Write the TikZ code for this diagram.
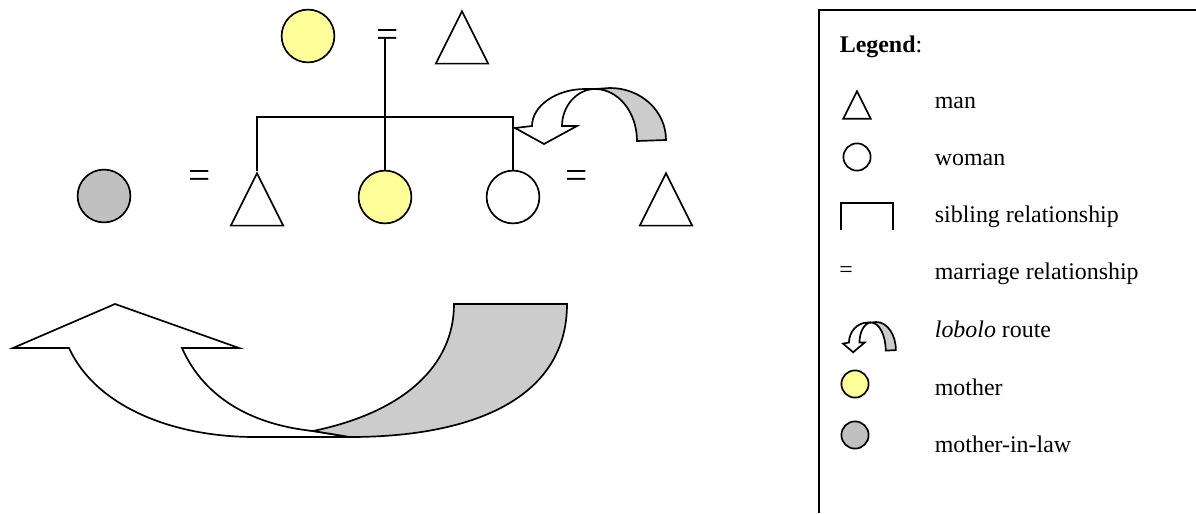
\documentclass[tikz,border=0pt]{standalone}
\usepackage{fontspec}
\setmainfont{Liberation Serif}
\setsansfont{Liberation Sans}
\usetikzlibrary{shapes.geometric}
\definecolor{motheryellow}{HTML}{FFFF99}
\definecolor{inlawgrey}{HTML}{C0C0C0}
\definecolor{routegrey}{HTML}{CCCCCC}

\begin{document}
\begin{tikzpicture}[x=0.025cm, y=-0.025cm, line width=1.2pt, font=\fontsize{17}{20}\selectfont,
	woman/.style={draw, circle, fill=white, inner sep=0pt, minimum size=1.32cm},
	man/.style={draw, isosceles triangle, shape border rotate=90, isosceles triangle stretches, inner sep=0pt, minimum width=1.31cm, minimum height=1.31cm, anchor=apex},
	wed/.style={font=\fontsize{28}{30}\selectfont, inner sep=0pt},
	legtext/.style={anchor=base west, inner sep=0pt},
	lobolo/.pic={
		\draw[fill=white] (17,38) -- (0,40) -- (29,56) -- (62,38) -- (47,38) .. controls (47,18) and (62,1) .. (80,1) -- (70,1) .. controls (41,1) and (17,18) .. (17,38) -- cycle;
		\draw[fill=routegrey] (80,1) -- (95,0) .. controls (126,0) and (151,23) .. (151,52) -- (122,53) .. controls (122,24) and (103,1) .. (80,1) -- cycle;
	}]
	\useasboundingbox (0,0) rectangle (1196,513);

	% family tree
	\node[woman, fill=motheryellow] (grandma) at (308,36) {};
	\node[wed] (wedtop) at (388,39) {=};
	\node[man] (grandpa) at (462,9) {};
	\node[woman, fill=inlawgrey] (inlaw) at (104,196) {};
	\node[wed] (wedleft) at (200,180) {=};
	\node[man] (brother) at (257,171) {};
	\node[woman, fill=motheryellow] (mum) at (385,197) {};
	\node[woman] (sister) at (513,197) {};
	\node[wed] (wedright) at (577,180) {=};
	\node[man] (husband) at (666,171) {};
	\coordinate (couple) at (385,38);
	\coordinate (sibs) at (385,117);
	\draw (couple) -- (mum.north);
	\draw (brother.apex) |- (sibs) -| (sister.north);
	\pic (route) at (515,88) {lobolo};

	% big lobolo arrow
	\draw[fill=white] (69,348) -- (13,348) -- (115,304) -- (239,348) -- (182,348) .. controls (205,400) and (255,425) .. (313,431) -- (350,437) -- (255,437) .. controls (170,437) and (95,405) .. (69,348) -- cycle;
	\draw[fill=routegrey] (313,431) .. controls (405,412) and (454,365) .. (454,304) -- (567,304) .. controls (567,400) and (470,437) .. (350,437) -- cycle;

	% legend
	\draw[line width=1.4pt] (1196,10) -| (819,513);
	\node[legtext] (legtitle) at (839,52) {\textbf{Legend}:};
	\node[man, minimum width=0.69cm, minimum height=0.69cm] (legman) at (857,89) {};
	\node[legtext] (txtman) at (934,108) {man};
	\node[woman, minimum size=0.68cm] (legwoman) at (857,157) {};
	\node[legtext] (txtwoman) at (934,165) {woman};
	\draw (841,230) -- (841,203) -- (893,203) -- (893,230);
	\node[legtext] (txtsib) at (934,222) {sibling relationship};
	\node[inner sep=0pt] (legwed) at (846,272) {=};
	\node[legtext] (txtwed) at (934,279) {marriage relationship};
	\pic[xscale=0.35, yscale=0.54] (legroute) at (843,322) {lobolo};
	\node[legtext] (txtroute) at (934,337) {\textit{lobolo} route};
	\node[woman, fill=motheryellow, minimum size=0.68cm] (legmum) at (855,384) {};
	\node[legtext] (txtmum) at (934,395) {mother};
	\node[woman, fill=inlawgrey, minimum size=0.68cm] (leginlaw) at (855,435) {};
	\node[legtext] (txtinlaw) at (934,452) {mother-in-law};
\end{tikzpicture}
\end{document}
